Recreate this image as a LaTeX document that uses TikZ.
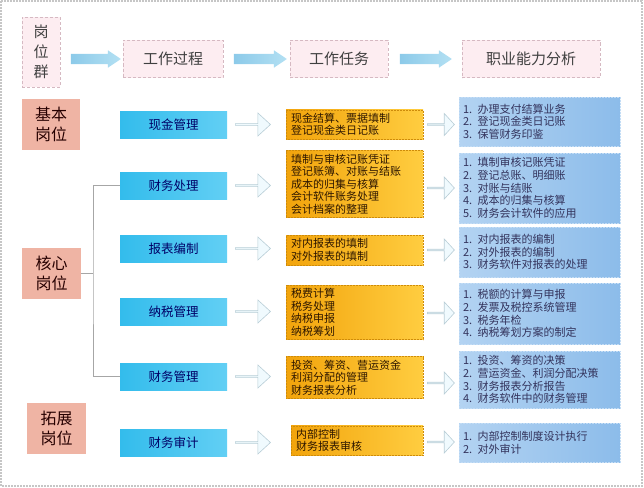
\documentclass[tikz,border=0pt]{standalone}
\usepackage{fontspec}
\setmainfont{Noto Sans CJK SC}
\usepackage{xcolor}
\usepackage{tikz}
\usetikzlibrary{shapes.arrows}
\pgfdeclarelayer{nodelayer}
\pgfdeclarelayer{edgelayer}
\pgfsetlayers{nodelayer,edgelayer,main}
\definecolor{hdrfill}{HTML}{FDEDF1}
\definecolor{hdrline}{HTML}{D6B9C2}
\definecolor{postfill}{HTML}{EFB4A4}
\definecolor{procA}{HTML}{33BCEC}
\definecolor{procB}{HTML}{62CFF4}
\definecolor{taskA}{HTML}{F2A40C}
\definecolor{taskB}{HTML}{FFCD40}
\definecolor{abilA}{HTML}{B3D3F2}
\definecolor{abilB}{HTML}{8CBCEA}
\definecolor{bigarrA}{HTML}{8CCAE9}
\definecolor{bigarrB}{HTML}{B3E0F3}
\tikzset{
    none/.style = {inner sep=0pt},
    hdr/.style = {rectangle, fill=hdrfill, draw=hdrline, dash pattern=on 3pt off 2pt,
        line width=0.8pt, text=black!75, font=\fontsize{15}{20}\selectfont, align=center},
    post/.style = {rectangle, fill=postfill, text=black!75!red!60!black,
        font=\fontsize{16}{20}\selectfont, align=center},
    proc/.style = {rectangle, left color=procA, right color=procB, text=blue!40!black,
        minimum width=107pt, minimum height=27pt, font=\fontsize{12.5}{14}\selectfont},
    task/.style = {rectangle, left color=taskA, right color=taskB, draw=taskA!85!black,
        densely dotted, line width=0.5pt, inner xsep=5pt, align=left, text=black!70!orange!60!black,
        font=\fontsize{11}{12.5}\selectfont},
    abil/.style = {rectangle, left color=abilA, right color=abilB, draw=abilA!80!white,
        densely dotted, line width=0.5pt, inner xsep=4pt, align=left, text=blue!20!black!80,
        text width=153pt, font=\fontsize{11}{12.7}\selectfont},
    bigarr/.style = {single arrow, inner xsep=0pt, inner ysep=5pt, left color=bigarrA,
        right color=bigarrB, single arrow head extend=3.5pt, single arrow tip angle=68},
    smallarr/.style = {single arrow, inner sep=0pt, fill=cyan!6, draw=cyan!30!gray!50,
        line width=0.6pt, minimum width=23pt, single arrow head extend=4pt},
    tree/.style = {draw=gray!70, line width=0.6pt}
}
\begin{document}
\begin{tikzpicture}[x=1pt, y=-1pt]
    % page frame, picture is laid out in pixels
    \useasboundingbox (0, 0) rectangle (644, 487);
    \draw [gray!45, line width=1.5pt, dash pattern=on 2pt off 1pt] (1, 1) rectangle (642, 486);

    \begin{pgfonlayer}{nodelayer}
        % header row
        \node [style=hdr, minimum width=38pt, minimum height=70pt] (0) at (41, 52) {岗\\位\\群};
        \node [style=hdr, minimum width=100pt, minimum height=37pt] (1) at (173, 59) {工作过程};
        \node [style=hdr, minimum width=98pt, minimum height=37pt] (2) at (339, 59) {工作任务};
        \node [style=hdr, minimum width=138pt, minimum height=37pt] (3) at (531, 59) {职业能力分析};
        \node [style=bigarr, minimum height=50pt] (4) at (92, 59) {};
        \node [style=bigarr, minimum height=53pt] (5) at (256.5, 59) {};
        \node [style=bigarr, minimum height=52pt] (6) at (422, 59) {};

        % post groups
        \node [style=post, minimum width=58pt, minimum height=51pt] (7) at (51, 124.5) {基本\\岗位};
        \node [style=post, minimum width=59pt, minimum height=51pt] (8) at (51.5, 273.5) {核心\\岗位};
        \node [style=post, minimum width=59pt, minimum height=51pt] (9) at (56.5, 428.5) {拓展\\岗位};

        % work processes
        \node [style=proc] (10) at (173.5, 124.5) {现金管理};
        \node [style=proc] (11) at (173.5, 185.5) {财务处理};
        \node [style=proc] (12) at (173.5, 248.5) {报表编制};
        \node [style=proc] (13) at (173.5, 311.5) {纳税管理};
        \node [style=proc] (14) at (173.5, 376.5) {财务管理};
        \node [style=proc] (15) at (173.5, 442.5) {财务审计};
        \foreach \n/\y in {16/124.5, 17/185.5, 18/248.5, 19/311.5, 20/376.5, 21/442.5}
            \node [style=smallarr, minimum height=35pt, single arrow tip angle=85] (\n) at (252.5, \y) {};

        % work tasks
        \node [style=task, text width=127pt, minimum height=27pt] (22) at (354.5, 124.5)
            {现金结算、票据填制\\登记现金类日记账};
        \node [style=task, text width=127pt, minimum height=66pt] (23) at (354.5, 184)
            {填制与审核记账凭证\\登记账簿、对账与结账\\成本的归集与核算\\会计软件账务处理\\会计档案的整理};
        \node [style=task, text width=127pt, minimum height=30pt] (24) at (354.5, 250)
            {对内报表的填制\\对外报表的填制};
        \node [style=task, text width=127pt, minimum height=53pt] (25) at (354.5, 312.5)
            {税费计算\\税务处理\\纳税申报\\纳税筹划};
        \node [style=task, text width=127pt, minimum height=41pt] (26) at (354.5, 377.5)
            {投资、筹资、营运资金\\利润分配的管理\\财务报表分析};
        \node [style=task, text width=122pt, minimum height=29pt] (27) at (357, 440.5)
            {内部控制\\财务报表审核};
        \foreach \n/\y in {28/124.5, 29/188, 30/250, 31/313, 32/383, 33/442}
            \node [style=smallarr, minimum height=27pt, minimum width=22pt, single arrow tip angle=95] (\n) at (440.5, \y) {};

        % abilities
        \node [style=abil, minimum height=49pt] (34) at (539.5, 121.5)
            {1. 办理支付结算业务\\2. 登记现金类日记账\\3. 保管财务印鉴};
        \node [style=abil, minimum height=70pt] (35) at (539.5, 188)
            {1. 填制审核记账凭证\\2. 登记总账、明细账\\3. 对账与结账\\4. 成本的归集与核算\\5. 财务会计软件的应用};
        \node [style=abil, minimum height=50pt] (36) at (539.5, 252)
            {1. 对内报表的编制\\2. 对外报表的编制\\3. 财务软件对报表的处理};
        \node [style=abil, minimum height=61pt] (37) at (539.5, 313.5)
            {1. 税额的计算与申报\\2. 发票及税控系统管理\\3. 税务年检\\4. 纳税筹划方案的制定};
        \node [style=abil, minimum height=57pt] (38) at (539.5, 379.5)
            {1. 投资、筹资的决策\\2. 营运资金、利润分配决策\\3. 财务报表分析报告\\4. 财务软件中的财务管理};
        \node [style=abil, minimum height=39pt] (39) at (539.5, 442.5)
            {1. 内部控制制度设计执行\\2. 对外审计};

        \coordinate (40) at (93, 273.5);
    \end{pgfonlayer}
    \begin{pgfonlayer}{edgelayer}
        \draw [style=tree] (8.east) to (40);
        \draw [style=tree] (11.west) -| (40) |- (14.west);
    \end{pgfonlayer}
\end{tikzpicture}
\end{document}
